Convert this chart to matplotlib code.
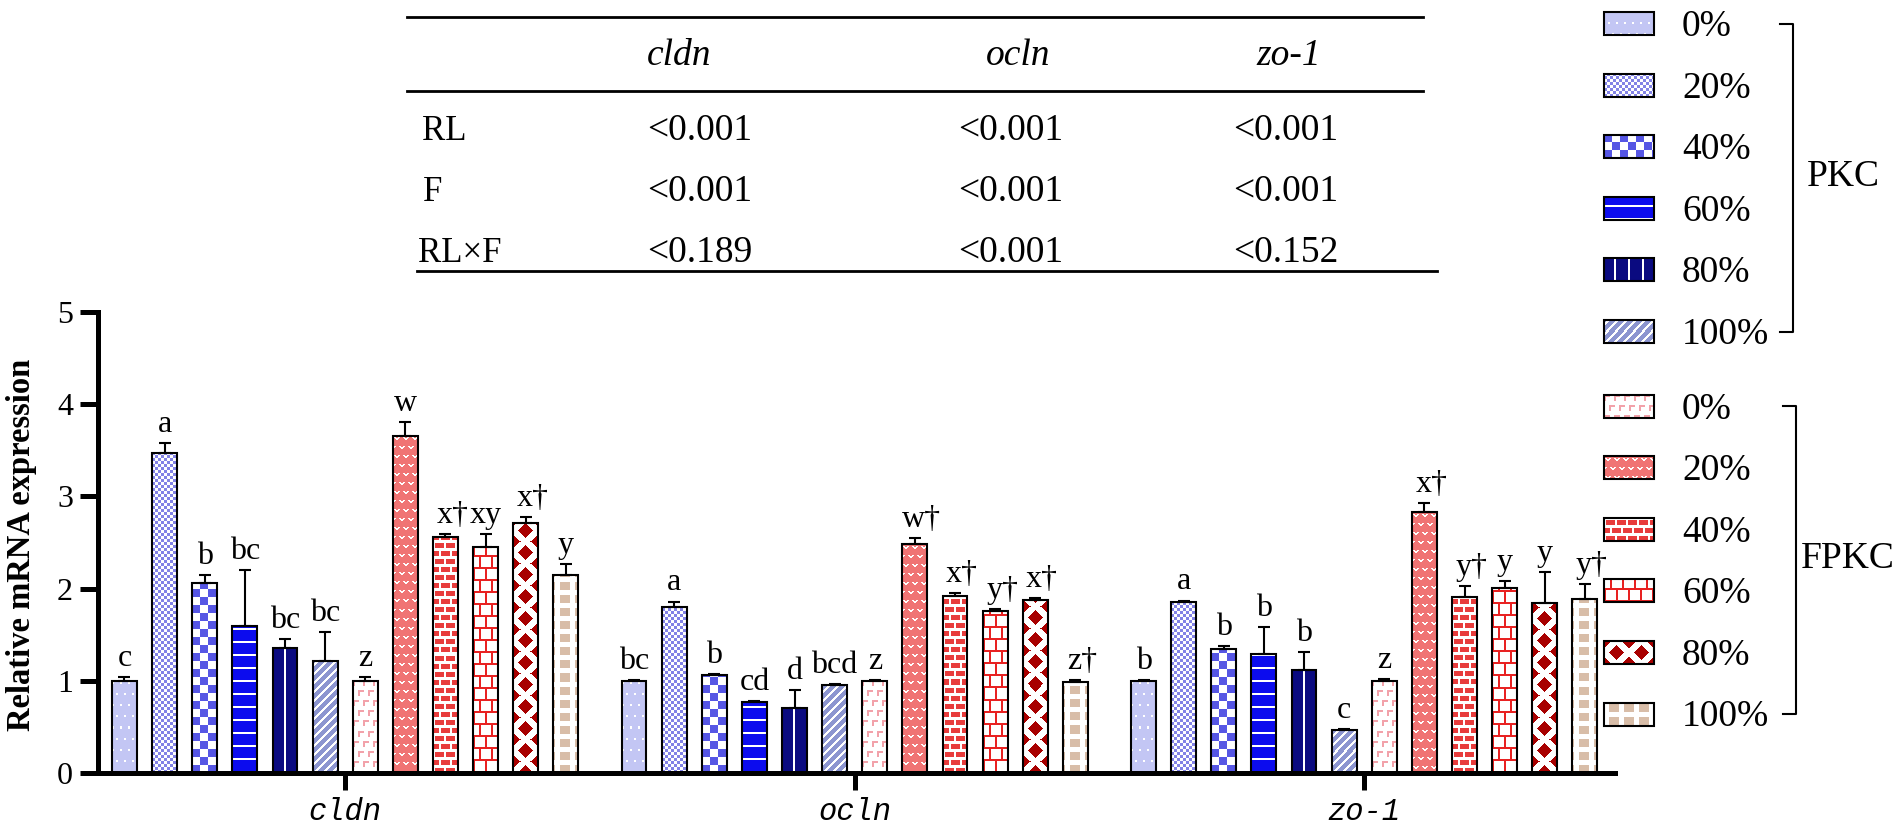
import numpy as np
import matplotlib.pyplot as plt
from matplotlib.colors import to_rgb
from matplotlib.patches import Rectangle

plt.rcParams["font.family"] = ["Liberation Serif", "DejaVu Serif"]

# data
genes = ["cldn", "ocln", "zo-1"]
levels = ["0%", "20%", "40%", "60%", "80%", "100%"]
diets = ["PKC", "FPKC"]

# bar order inside a gene: PKC 0..100 %, then FPKC 0..100 %
cldn_mean = [1.00, 3.47, 2.06, 1.59, 1.36, 1.21, 1.00, 3.66, 2.56, 2.45, 2.71, 2.15]
cldn_sem = [0.04, 0.11, 0.09, 0.61, 0.09, 0.32, 0.04, 0.15, 0.03, 0.14, 0.07, 0.12]
cldn_sig = ["c", "a", "b", "bc", "bc", "bc", "z", "w", "x†", "xy", "x†", "y"]

ocln_mean = [1.00, 1.80, 1.06, 0.77, 0.71, 0.95, 1.00, 2.48, 1.92, 1.76, 1.88, 0.99]
ocln_sem = [0.01, 0.06, 0.01, 0.01, 0.19, 0.01, 0.01, 0.07, 0.03, 0.02, 0.02, 0.02]
ocln_sig = ["bc", "a", "b", "cd", "d", "bcd", "z", "w†", "x†", "y†", "x†", "z†"]

zo1_mean = [1.00, 1.85, 1.34, 1.29, 1.12, 0.47, 1.00, 2.83, 1.91, 2.01, 1.84, 1.89]
zo1_sem = [0.01, 0.02, 0.04, 0.29, 0.19, 0.01, 0.02, 0.10, 0.12, 0.07, 0.34, 0.16]
zo1_sig = ["b", "a", "b", "b", "b", "c", "z", "x†", "y†", "y", "y", "y†"]

table_cols = ["cldn", "ocln", "zo-1"]
table_rows = ["RL", "F", "RL×F"]
table_p = [["<0.001", "<0.001", "<0.001"],
           ["<0.001", "<0.001", "<0.001"],
           ["<0.189", "<0.001", "<0.152"]]

means = [cldn_mean, ocln_mean, zo1_mean]
sems = [cldn_sem, ocln_sem, zo1_sem]
sigs = [cldn_sig, ocln_sig, zo1_sig]


def fill_pattern(kind, w, h):
    """pixel pattern for one bar / legend box (kind 0-5 PKC, 6-11 FPKC)"""
    yy, xx = np.mgrid[0:h, 0:w]
    yb = h - 1 - yy
    cx = w // 2
    img = np.ones((h, w, 3))
    if kind == 0:  # light lavender with white dots
        img[:] = to_rgb("#c3c6f4")
        xs = xx + 4 * ((yb // 11) % 2)
        img[(xs % 8 < 2) & (yb % 11 < 2)] = 1
    elif kind == 1:  # fine checker
        img[((xx // 3 + yb // 3) % 2) == 0] = to_rgb("#8282e6")
    elif kind == 2:  # coarse checker
        img[((xx // 8 + yb // 8) % 2) == 0] = to_rgb("#5656e4")
    elif kind == 3:  # blue, white horizontal lines
        img[:] = to_rgb("#0c0cee")
        img[(yb % 13) < 2] = 1
    elif kind == 4:  # navy, white vertical lines
        img[:] = to_rgb("#0a0a80")
        img[((xx - cx + 1) % 14) < 2] = 1
    elif kind == 5:  # periwinkle, white diagonals
        img[:] = to_rgb("#8c95d0")
        img[((xx - yb) % 9) < 3] = 1
    elif kind == 6:  # white with pink broken corners
        xs = xx + 5 * ((yy // 10) % 2)
        hx, hy = xs % 10, yy % 10
        m = ((hy < 2) & (hx < 6)) | ((hx < 2) & (hy < 6))
        img[m] = to_rgb("#f2a2aa")
    elif kind == 7:  # coral with small white hearts
        img[:] = to_rgb("#f07474")
        tile = np.zeros((9, 9), bool)
        for r, c in [(2, 1), (2, 2), (2, 5), (2, 6), (3, 2), (3, 3), (3, 4), (3, 5), (4, 3), (4, 4)]:
            tile[r, c] = True
        xs = xx + 4 * ((yy // 9) % 2)
        img[tile[yy % 9, xs % 9]] = 1
    elif kind == 8:  # red bricks, white mortar
        xs = xx + 5 * ((yb // 8) % 2)
        img[((yb % 8) < 5) & ((xs % 11) >= 2)] = to_rgb("#e83c3c")
    elif kind == 9:  # white bricks, red mortar
        xs = xx + 6 * ((yb // 12) % 2)
        img[((yb % 12) < 2) | ((xs % 12) < 2)] = to_rgb("#e82222")
    elif kind == 10:  # dark red diamonds
        P, Q, a, b = 25.0, 22.0, 7.5, 7.0
        cxf = (w - 1) / 2
        m = np.zeros((h, w), bool)
        for ox, oy in [(0, 0), (P / 2, Q / 2)]:
            dx = (xx - cxf - ox + P / 2) % P - P / 2
            dy = (yb - oy + Q / 2) % Q - Q / 2
            m |= np.abs(dx) / a + np.abs(dy) / b <= 1
        img[m] = to_rgb("#a80000")
    else:  # tan blocks
        xs = (xx - cx + 5) % 15
        img[(xs < 10) & ((yb % 13) < 8)] = to_rgb("#d8bda8")
    return img


W, H = 1902, 834
fig = plt.figure(figsize=(W / 100, H / 100), dpi=100)

ax_l, ax_r, ax_b, ax_t = 98, 1615, 773, 312  # pixel box of the plot area
ax = fig.add_axes([ax_l / W, 1 - ax_b / H, (ax_r - ax_l) / W, (ax_b - ax_t) / H])

group_pos = np.array([0.0, 12.7, 25.4])
bw = 0.62
xlim = (-6.16, 31.65)
ylim = (0, 5)
sx = (ax_r - ax_l) / (xlim[1] - xlim[0])
sy = (ax_b - ax_t) / (ylim[1] - ylim[0])

for g in range(3):
    xs = group_pos[g] + np.arange(12) - 5.5
    for i in range(12):
        m = means[g][i]
        x0 = xs[i] - bw / 2
        img = fill_pattern(i, int(round(bw * sx)), max(1, int(round(m * sy))))
        ax.imshow(img, extent=(x0, x0 + bw, 0, m), aspect="auto",
                  interpolation="nearest", zorder=2)
    ax.bar(xs, means[g], bw, fill=False, edgecolor="black", linewidth=1.5, zorder=3)
    ax.errorbar(xs, means[g], yerr=[np.zeros(12), sems[g]], fmt="none", ecolor="black",
                elinewidth=1.5, capsize=4.5, capthick=1.5, zorder=4)
    for i in range(12):
        s = sigs[g][i]
        dx = 5 if "†" in s else 0
        ax.annotate(s, (xs[i], means[g][i] + sems[g][i]), xytext=(dx, 8),
                    textcoords="offset points", ha="center", va="baseline",
                    fontsize=23, zorder=5)

ax.set_xlim(xlim)
ax.set_ylim(ylim)
ax.set_yticks(range(6))
ax.set_xticks(group_pos)
ax.set_xticklabels(genes, fontstyle="italic", fontfamily="Liberation Mono", fontsize=22)
ax.tick_params(axis="y", labelsize=23, length=13, width=3.6, pad=5)
ax.tick_params(axis="x", length=12, width=3.6, pad=5)
for sp in ["top", "right"]:
    ax.spines[sp].set_visible(False)
for sp in ["left", "bottom"]:
    ax.spines[sp].set_linewidth(3.6)

fig.text(22 / W, 1 - 545 / H, "Relative mRNA expression", rotation=90,
         ha="center", va="center", fontsize=23.5, fontweight="bold")

# overlay in pixel coordinates for the table and legend
ov = fig.add_axes([0, 0, 1, 1])
ov.set_xlim(0, W)
ov.set_ylim(H, 0)
ov.axis("off")

# p-value table
ov.plot([407, 1423], [17, 17], color="black", lw=2)
ov.plot([407, 1423], [91, 91], color="black", lw=2)
ov.plot([417, 1437], [271, 271], color="black", lw=2)
col_x = [679, 1018, 1289]
val_x = [700, 1011, 1286]
row_x = [422, 423, 418]
row_y = [140, 201, 262]
for j, c in enumerate(table_cols):
    ov.text(col_x[j], 65, c, ha="center", va="baseline", fontsize=27, fontstyle="italic")
for r, name in enumerate(table_rows):
    ov.text(row_x[r], row_y[r], name, ha="left", va="baseline", fontsize=25)
    for j in range(3):
        ov.text(val_x[j], row_y[r], table_p[r][j], ha="center", va="baseline", fontsize=27)

# legend
box_x, box_w, box_h = 1604, 50, 23
step = 61.6
for d, (y_first, bx, tx, ty) in enumerate([(23.5, 1793, 1807, 186), (406, 1796, 1801, 568)]):
    ys = y_first + step * np.arange(6)
    for k, lab in enumerate(levels):
        yc = ys[k]
        img = fill_pattern(d * 6 + k, box_w, box_h)
        ov.imshow(img, extent=(box_x, box_x + box_w, yc + box_h / 2, yc - box_h / 2),
                  aspect="auto", interpolation="nearest", zorder=2)
        ov.add_patch(Rectangle((box_x, yc - box_h / 2), box_w, box_h, fill=False,
                               edgecolor="black", lw=1.5, zorder=3))
        ov.text(1682, yc + 12.5, lab, ha="left", va="baseline", fontsize=27)
    ov.plot([bx - 13, bx, bx, bx - 13], [ys[0], ys[0], ys[-1], ys[-1]], color="black", lw=1.5)
    ov.text(tx, ty, diets[d], ha="left", va="baseline", fontsize=27)

ov.set_xlim(0, W)
ov.set_ylim(H, 0)

fig.savefig("out.png", dpi=100)
